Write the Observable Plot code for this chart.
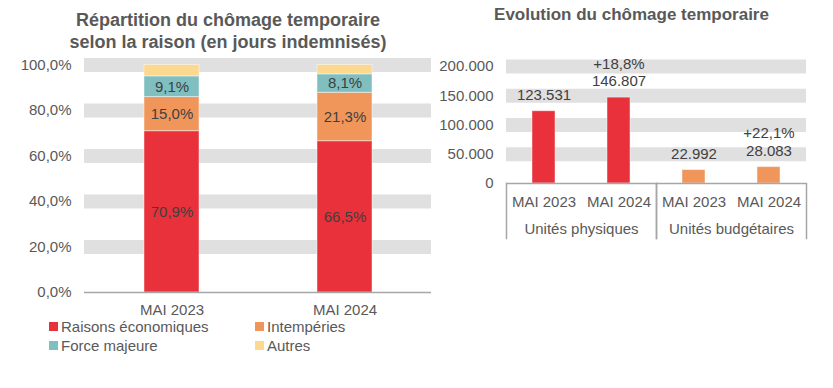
<!DOCTYPE html>
<html><head><meta charset="utf-8">
<script src="https://cdn.jsdelivr.net/npm/d3@7"></script>
<script src="https://cdn.jsdelivr.net/npm/@observablehq/plot@0.6"></script>
<style>
body{margin:0;background:#fff;font-family:"Liberation Sans",Arial,sans-serif;color:#595959}
#root{position:relative;width:833px;height:388px;overflow:hidden}
.abs{position:absolute}
.title{font-weight:bold;text-align:center;color:#595959}
.lg{position:absolute;display:flex;align-items:center;font-size:15px;line-height:12px;height:12px;white-space:nowrap;color:#595959}
.lg .sw{display:inline-block;width:9px;height:9px;margin-right:3px}
</style></head><body><div id="root"></div>
<script>
// ---- data ----
const periods = ["MAI 2023", "MAI 2024"];
const reasons = ["Raisons économiques", "Intempéries", "Force majeure", "Autres"];
const reasonColors = ["#E8313A", "#F0965B", "#7FBFBF", "#FDD88F"];
const share2023 = [70.9, 15.0, 9.1, 5.0];
const share2024 = [66.5, 21.3, 8.1, 4.1];
const pctTicks = [0, 20, 40, 60, 80, 100];

const groups = ["Unités physiques", "Unités budgétaires"];
const groupColors = ["#E8313A", "#F0965B"];
const physiques = [123531, 146807];
const budgetaires = [22992, 28083];
const physChange = [null, "+18,8%"];
const budgChange = [null, "+22,1%"];
const countTicks = [0, 50000, 100000, 150000, 200000];

const titleLeft = ["Répartition du chômage temporaire", "selon la raison (en jours indemnisés)"];
const titleRight = "Evolution du chômage temporaire";

// ---- helpers ----
const FONT = '"Liberation Sans", Arial, sans-serif';
const loc = d3.formatLocale({decimal: ",", thousands: ".", grouping: [3], currency: ["", "€"]});
const fmtNum = loc.format(",d");
const fmtPct = v => v.toFixed(1).replace(".", ",") + "%";

const shareRows = [];
periods.forEach((p, pi) => {
  const vals = pi === 0 ? share2023 : share2024;
  reasons.forEach((r, ri) => shareRows.push({period: p, reason: r, value: vals[ri]}));
});
const countRows = [];
groups.forEach((g, gi) => {
  const vals = gi === 0 ? physiques : budgetaires;
  const ch = gi === 0 ? physChange : budgChange;
  periods.forEach((p, pi) => countRows.push({group: g, period: p, value: vals[pi], change: ch[pi]}));
});

const root = document.getElementById("root");

// ---- left title ----
const t1 = document.createElement("div");
t1.className = "abs title";
t1.style.cssText = "left:0;top:9px;width:456px;font-size:18px;line-height:22px;";
t1.innerHTML = titleLeft.join("<br>");
root.appendChild(t1);

// ---- left chart ----
const left = Plot.plot({
  width: 440, height: 270,
  marginTop: 14.5, marginBottom: 28, marginLeft: 84, marginRight: 9,
  style: {fontFamily: FONT, fontSize: "15px", color: "#595959", background: "transparent", overflow: "visible"},
  x: {domain: periods, paddingInner: 0.683, paddingOuter: 0.3415},
  y: {domain: [0, 100]},
  color: {domain: reasons, range: reasonColors},
  marks: [
    Plot.ruleY(pctTicks.filter(t => t > 0), {stroke: "#e0e0e0", strokeWidth: 14}),
    Plot.barY(shareRows, {x: "period", y: "value", fill: "reason", order: reasons,
      stroke: "#ffffff", strokeOpacity: 0.45, strokeWidth: 1}),
    Plot.ruleY([0], {stroke: "#a6a6a6", strokeWidth: 1.5}),
    Plot.text(shareRows, Plot.stackY({x: "period", y: "value", z: "reason", order: reasons,
      text: d => d.reason === "Autres" ? null : fmtPct(d.value), fill: "#404040", fontSize: 15})),
    Plot.axisY(pctTicks, {tickSize: 0, tickPadding: 13, tickFormat: fmtPct, label: null, fontSize: 15}),
    Plot.axisX({tickSize: 0, tickPadding: 12, label: null, fontSize: 15})
  ]
});
left.style.position = "absolute";
left.style.left = "0px";
left.style.top = "50px";
root.appendChild(left);

// ---- legend ----
const legendPos = [[49, 320.5], [255, 320.5], [49, 339.5], [255, 339.5]];
reasons.forEach((r, i) => {
  const d = document.createElement("div");
  d.className = "lg";
  d.style.left = legendPos[i][0] + "px";
  d.style.top = legendPos[i][1] + "px";
  d.innerHTML = `<span class="sw" style="background:${reasonColors[i]}"></span>${r}`;
  root.appendChild(d);
});

// ---- right title ----
const t2 = document.createElement("div");
t2.className = "abs title";
t2.style.cssText = "left:430px;top:5px;width:403px;font-size:17px;line-height:20px;";
t2.textContent = titleRight;
root.appendChild(t2);

// ---- right chart ----
const right = Plot.plot({
  width: 403, height: 212,
  marginTop: 36, marginBottom: 59, marginLeft: 75, marginRight: 27,
  style: {fontFamily: FONT, fontSize: "15px", color: "#595959", background: "transparent", overflow: "visible"},
  fx: {domain: groups, paddingInner: 0, paddingOuter: 0},
  x: {domain: periods, paddingInner: 0.694, paddingOuter: 0.347},
  y: {domain: [0, 200000]},
  color: {domain: groups, range: groupColors},
  marks: [
    Plot.ruleY(countTicks.filter(t => t > 0), {stroke: "#e0e0e0", strokeWidth: 14}),
    Plot.barY(countRows, {fx: "group", x: "period", y: "value", fill: "group",
      stroke: "#ffffff", strokeOpacity: 0.45, strokeWidth: 1}),
    Plot.ruleY([0], {stroke: "#a6a6a6", strokeWidth: 1.5}),
    Plot.frame({anchor: "left", stroke: "#a6a6a6", strokeWidth: 1.5, insetTop: 117, insetBottom: -55}),
    Plot.frame({anchor: "right", stroke: "#a6a6a6", strokeWidth: 1.5, insetTop: 117, insetBottom: -55}),
    Plot.text(countRows, {fx: "group", x: "period", y: "value",
      text: d => (d.change ? d.change + "\n" : "") + fmtNum(d.value),
      lineAnchor: "bottom", dy: -11.5, lineHeight: 1.16, fill: "#404040", fontSize: 15}),
    Plot.axisY(countTicks, {tickSize: 0, tickPadding: 13, tickFormat: fmtNum, label: null, fontSize: 15}),
    Plot.axisX({tickSize: 0, tickPadding: 13, label: null, fontSize: 15}),
    Plot.axisFx({anchor: "bottom", tickSize: 0, tickPadding: 40, label: null, fontSize: 15})
  ]
});
right.style.position = "absolute";
right.style.left = "430px";
right.style.top = "30px";
root.appendChild(right);
</script>
</body></html>
